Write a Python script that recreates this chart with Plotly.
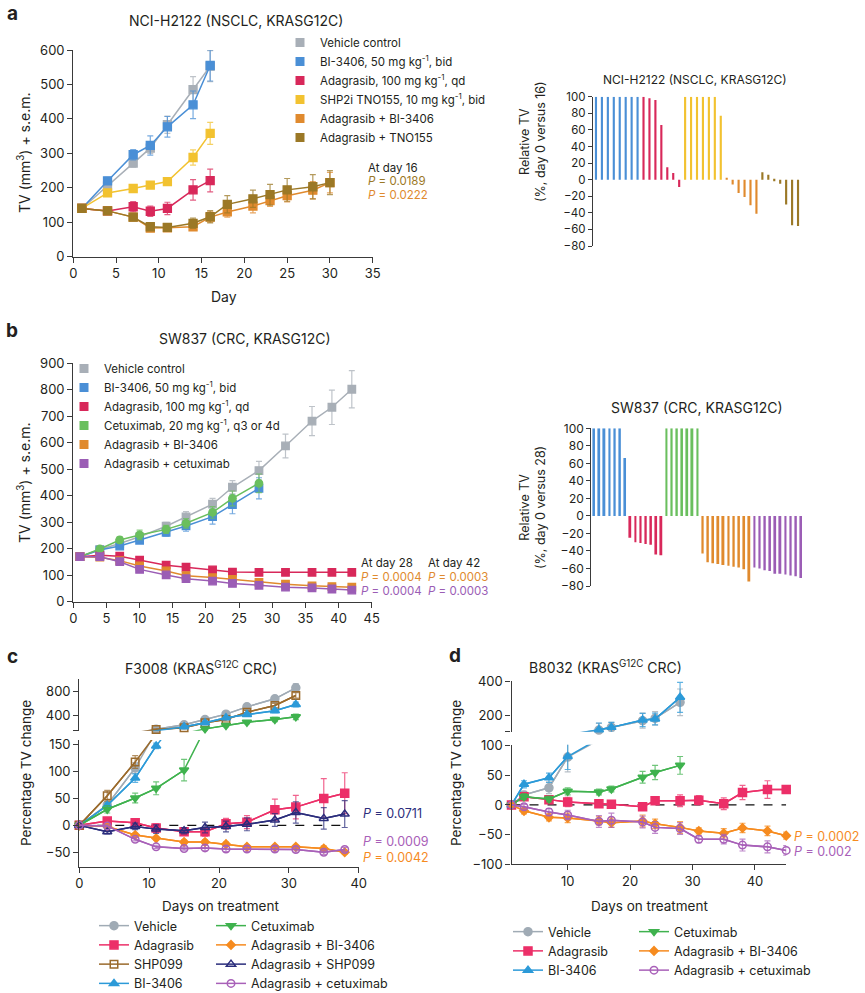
import plotly.graph_objects as go

W, H = 865, 993
FONT = "Inter"
TXT = "#231F20"
AX = "#3a3a3a"


def px(x):
    return x / W


def py(y):
    return 1 - y / H


# ---------------- Panel a data ----------------
a_days_short = [1, 4, 7, 9, 11, 14, 16]
a_days_long = [1, 4, 7, 9, 11, 14, 16, 18, 21, 23, 25, 28, 30]
a_vehicle = [140, 205, 272, 315, 383, 485, 553]
a_vehicle_err = [4, 10, 12, 15, 25, 38, 45]
a_bi = [140, 220, 296, 323, 377, 441, 555]
a_bi_err = [4, 10, 15, 28, 30, 40, 45]
a_ada = [140, 133, 145, 132, 140, 194, 221]
a_ada_err = [4, 8, 15, 15, 18, 30, 33]
a_shp = [140, 185, 198, 208, 218, 288, 358]
a_shp_err = [4, 8, 8, 8, 10, 22, 32]
a_adabi = [140, 133, 115, 83, 84, 87, 115, 130, 147, 163, 177, 193, 215]
a_adabi_err = [4, 8, 8, 8, 8, 10, 15, 15, 20, 17, 18, 25, 30]
a_adatno = [140, 133, 115, 87, 85, 97, 116, 152, 168, 180, 194, 203, 215]
a_adatno_err = [4, 8, 8, 10, 8, 15, 18, 25, 25, 30, 33, 35, 35]

a_names = ["Vehicle control", "BI-3406, 50 mg kg<sup>-1</sup>, bid",
           "Adagrasib, 100 mg kg<sup>-1</sup>, qd",
           "SHP2i TNO155, 10 mg kg<sup>-1</sup>, bid",
           "Adagrasib + BI-3406", "Adagrasib + TNO155"]

# waterfall a (relative TV, %, day 0 vs 16)
wa_bi = [100, 100, 100, 100, 100, 100, 100, 100]
wa_ada = [100, 98, 96, 66, 15, 8, -9]
wa_shp = [100, 100, 100, 100, 100, 100, 77]
wa_adabi = [2, -6, -16, -21, -31, -41]
wa_adatno = [9, 6, -2, -5, -30, -55, -56]

# ---------------- Panel b data ----------------
b_days_short = [1, 4, 7, 10, 14, 17, 21, 24, 28]
b_days_long = [1, 4, 7, 10, 14, 17, 21, 24, 28, 32, 36, 39, 42]
b_vehicle = [170, 197, 220, 245, 285, 320, 368, 432, 495, 588, 682, 734, 802]
b_vehicle_err = [5, 8, 10, 12, 15, 20, 22, 25, 35, 45, 55, 65, 70]
b_bi = [170, 195, 210, 232, 262, 286, 321, 367, 428]
b_bi_err = [5, 8, 10, 12, 15, 20, 28, 35, 40]
b_cet = [170, 199, 233, 252, 273, 296, 337, 390, 447]
b_cet_err = [5, 8, 12, 18, 15, 18, 22, 28, 35]
b_ada = [170, 175, 172, 157, 138, 130, 120, 112, 111, 111, 111, 111, 111]
b_ada_err = [5, 5, 5, 6, 6, 6, 6, 6, 6, 6, 6, 6, 6]
b_adabi = [170, 168, 155, 135, 116, 98, 91, 84, 73, 66, 60, 57, 55]
b_adabi_err = [5, 5, 5, 6, 5, 5, 5, 5, 5, 4, 4, 4, 4]
b_adacet = [170, 170, 151, 122, 101, 87, 78, 69, 62, 55, 52, 48, 44]
b_adacet_err = [5, 5, 5, 6, 5, 5, 5, 5, 5, 4, 4, 4, 4]

b_names = ["Vehicle control", "BI-3406, 50 mg kg<sup>-1</sup>, bid",
           "Adagrasib, 100 mg kg<sup>-1</sup>, qd",
           "Cetuximab, 20 mg kg<sup>-1</sup>, q3 or 4d",
           "Adagrasib + BI-3406", "Adagrasib + cetuximab"]

# waterfall b (relative TV, %, day 0 vs 28)
wb_bi = [100, 100, 100, 100, 100, 100, 66]
wb_ada = [-25, -30, -31, -32, -33, -44, -45]
wb_cet = [100, 100, 100, 100, 100, 100, 100]
wb_adabi = [-43, -53, -54, -55, -56, -57, -58, -59, -61, -75]
wb_adacet = [-59, -60, -62, -63, -66, -66, -67, -68, -69, -71]

# ---------------- Panel c data ----------------
c_days_short = [0, 4, 8, 11, 15, 18, 21, 24, 28, 31]
c_days_long = [0, 4, 8, 11, 15, 18, 21, 24, 28, 31, 35, 38]
c_vehicle = [0, 38, 107, 175, 247, 334, 422, 542, 674, 855]
c_vehicle_err = [0, 6, 10, 10, 15, 20, 25, 30, 35, 70]
c_shp099 = [0, 55, 118, 170, 197, 280, 334, 455, 564, 729]
c_shp099_err = [0, 10, 12, 10, 15, 20, 25, 30, 35, 45]
c_bi = [0, 37, 88, 148, 214, 280, 362, 416, 477, 581]
c_bi_err = [0, 5, 8, 5, 10, 15, 20, 25, 30, 40]
c_cet = [0, 30, 51, 69, 103, 180, 236, 290, 334, 378]
c_cet_err = [0, 7, 9, 12, 20, 15, 20, 25, 35, 45]
c_ada = [0, 8, 5, -5, -12, -12, 3, 6, 29, 34, 50, 60]
c_ada_err = [0, 5, 6, 8, 6, 8, 10, 12, 20, 22, 37, 38]
c_adashp = [0, -12, -2, -7, -10, -4, -2, 2, 10, 24, 13, 21]
c_adashp_err = [0, 4, 6, 8, 6, 10, 10, 12, 12, 20, 20, 25]
c_adabi = [0, -2, -18, -24, -31, -31, -35, -40, -40, -40, -43, -50]
c_adabi_err = [0, 3, 3, 3, 4, 4, 4, 3, 3, 3, 5, 3]
c_adacet = [0, -1, -26, -40, -43, -42, -44, -44, -44, -45, -50, -45]
c_adacet_err = [0, 2, 3, 3, 3, 5, 5, 5, 5, 5, 4, 4]

# ---------------- Panel d data ----------------
d_days_short = [1, 3, 7, 10, 15, 17, 22, 24, 28]
d_days_long = [1, 3, 7, 10, 15, 17, 22, 24, 28, 31, 35, 38, 42, 45]
d_vehicle = [0, 17, 29, 81, 110, 126, 166, 180, 276]
d_vehicle_err = [0, 6, 10, 25, 40, 30, 45, 40, 80]
d_bi = [0, 35, 46, 82, 112, 126, 170, 176, 306]
d_bi_err = [0, 6, 8, 22, 40, 30, 40, 35, 90]
d_cet = [0, 14, 10, 23, 22, 27, 47, 55, 67]
d_cet_err = [0, 5, 5, 6, 5, 5, 10, 12, 15]
d_ada = [0, 14, 9, 5, 2, 1, -3, 7, 7, 8, 2, 21, 26, 26]
d_ada_err = [0, 5, 6, 8, 6, 6, 6, 6, 10, 8, 10, 12, 15, 6]
d_adabi = [0, -10, -21, -22, -27, -30, -27, -32, -38, -44, -48, -39, -44, -52]
d_adabi_err = [0, 5, 6, 8, 7, 8, 10, 8, 10, 5, 8, 8, 8, 6]
d_adacet = [0, -3, -12, -17, -28, -26, -29, -38, -40, -58, -58, -68, -71, -77]
d_adacet_err = [0, 4, 6, 8, 10, 12, 10, 10, 10, 6, 8, 10, 10, 8]

# ---------------- colours ----------------
C_VEH = "#A8AFB7"
C_BI = "#4A8FD6"
C_ADA = "#D8285A"
C_SHP = "#F2C230"
C_ADABI = "#E08A2E"
C_ADATNO = "#9B7826"
C_CET = "#6ABF5E"
C_ADACET = "#9B5DB5"

D_VEH = "#A0ABB5"
D_ADA = "#EC2F68"
D_SHP = "#9A6A2C"
D_BI = "#2C9AD8"
D_CET = "#3FB24E"
D_ADABI = "#F68B1F"
D_ADASHP = "#2B2D7C"
D_ADACET = "#A860B8"


def rgba(hexcol, a):
    h = hexcol.lstrip("#")
    r, g, b = int(h[0:2], 16), int(h[2:4], 16), int(h[4:6], 16)
    return f"rgba({r},{g},{b},{a})"


traces = []


def series(x, y, err, color, xa, ya, symbol="square", size=8, lw=1.5):
    return go.Scatter(
        x=x, y=y, mode="lines+markers", xaxis=xa, yaxis=ya, showlegend=False,
        line=dict(color=color, width=lw),
        marker=dict(symbol=symbol, size=size, color=color,
                    line=dict(width=1.3, color=color)),
        error_y=dict(type="data", array=err, color=rgba(color, 0.75),
                     thickness=1.2, width=3),
        cliponaxis=False, hoverinfo="skip")


def legend_square(name, color, legend, xa, ya):
    return go.Scatter(x=[None], y=[None], mode="markers", name=name,
                      marker=dict(symbol="square", size=9, color=color),
                      legend=legend, xaxis=xa, yaxis=ya, showlegend=True)


# ----- panel a line chart -----
a_series = [
    (a_days_short, a_vehicle, a_vehicle_err, C_VEH),
    (a_days_short, a_bi, a_bi_err, C_BI),
    (a_days_short, a_ada, a_ada_err, C_ADA),
    (a_days_short, a_shp, a_shp_err, C_SHP),
    (a_days_long, a_adabi, a_adabi_err, C_ADABI),
    (a_days_long, a_adatno, a_adatno_err, C_ADATNO),
]
for (x, y, e, c) in a_series:
    traces.append(series(x, y, e, c, "x", "y"))
for name, (_, _, _, c) in zip(a_names, a_series):
    traces.append(legend_square(name, c, "legend", "x", "y"))

# ----- panel a waterfall -----
start = 0
for vals, c in [(wa_bi, C_BI), (wa_ada, C_ADA), (wa_shp, C_SHP),
                (wa_adabi, C_ADABI), (wa_adatno, C_ADATNO)]:
    xs = list(range(start, start + len(vals)))
    start += len(vals)
    traces.append(go.Bar(x=xs, y=vals, xaxis="x2", yaxis="y2", width=0.36,
                         marker=dict(color=c, line=dict(width=0)),
                         showlegend=False, hoverinfo="skip"))

# ----- panel b line chart -----
b_series = [
    (b_days_long, b_vehicle, b_vehicle_err, C_VEH, "square"),
    (b_days_short, b_bi, b_bi_err, C_BI, "square"),
    (b_days_long, b_ada, b_ada_err, C_ADA, "square"),
    (b_days_short, b_cet, b_cet_err, C_CET, "circle"),
    (b_days_long, b_adabi, b_adabi_err, C_ADABI, "square"),
    (b_days_long, b_adacet, b_adacet_err, C_ADACET, "square"),
]
for (x, y, e, c, s) in b_series:
    traces.append(series(x, y, e, c, "x3", "y3", symbol=s, size=7.5))
for name, (_, _, _, c, _) in zip(b_names, b_series):
    traces.append(legend_square(name, c, "legend2", "x3", "y3"))

# ----- panel b waterfall -----
start = 0
for vals, c in [(wb_bi, C_BI), (wb_ada, C_ADA), (wb_cet, C_CET),
                (wb_adabi, C_ADABI), (wb_adacet, C_ADACET)]:
    xs = list(range(start, start + len(vals)))
    start += len(vals)
    traces.append(go.Bar(x=xs, y=vals, xaxis="x4", yaxis="y4", width=0.38,
                         marker=dict(color=c, line=dict(width=0)),
                         showlegend=False, hoverinfo="skip"))


# ----- broken-axis panels c and d -----
def mask(vals, errs, lo, hi):
    v = [y if lo <= y <= hi else None for y in vals]
    e = [er if lo <= y <= hi else 0 for y, er in zip(vals, errs)]
    return v, e


def broken_series(name, x, y, err, color, symbol, size, axes, legend):
    out = []
    for i, (xa, ya, lo, hi) in enumerate(axes):
        # connecting line (clipped to subplot)
        out.append(go.Scatter(x=x, y=y, mode="lines", xaxis=xa, yaxis=ya,
                              line=dict(color=color, width=1.5),
                              showlegend=False, hoverinfo="skip"))
        mv, me = mask(y, err, lo, hi)
        out.append(go.Scatter(
            x=x, y=mv, mode="lines+markers", xaxis=xa, yaxis=ya, name=name,
            line=dict(color=color, width=1.5),
            marker=dict(symbol=symbol, size=size, color=color,
                        line=dict(width=1.5, color=color)),
            error_y=dict(type="data", array=me, color=rgba(color, 0.75),
                         thickness=1.2, width=3),
            cliponaxis=False, legend=legend, showlegend=(i == 0),
            hoverinfo="skip"))
    return out


C_LO, C_HI = (-77, 159), (150, 995)
c_axes = [("x5", "y5", C_LO[0], C_LO[1]), ("x6", "y6", C_HI[0], C_HI[1])]
c_series = [
    ("Vehicle", c_days_short, c_vehicle, c_vehicle_err, D_VEH, "circle", 8, "legend3"),
    ("Adagrasib", c_days_long, c_ada, c_ada_err, D_ADA, "square", 8, "legend3"),
    ("SHP099", c_days_short, c_shp099, c_shp099_err, D_SHP, "square-open", 7.5, "legend3"),
    ("BI-3406", c_days_short, c_bi, c_bi_err, D_BI, "triangle-up", 8, "legend3"),
    ("Cetuximab", c_days_short, c_cet, c_cet_err, D_CET, "triangle-down", 8, "legend4"),
    ("Adagrasib + BI-3406", c_days_long, c_adabi, c_adabi_err, D_ADABI, "diamond", 6.5, "legend4"),
    ("Adagrasib + SHP099", c_days_long, c_adashp, c_adashp_err, D_ADASHP, "triangle-up-open", 8, "legend4"),
    ("Adagrasib + cetuximab", c_days_long, c_adacet, c_adacet_err, D_ADACET, "circle-open", 7.5, "legend4"),
]
for (n, x, y, e, c, s, sz, lg) in c_series:
    traces += broken_series(n, x, y, e, c, s, sz, c_axes, lg)

D_LO, D_HI = (-100, 102), (100, 405)
d_axes = [("x7", "y7", D_LO[0], D_LO[1]), ("x8", "y8", D_HI[0], D_HI[1])]
d_series = [
    ("Vehicle", d_days_short, d_vehicle, d_vehicle_err, D_VEH, "circle", 8, "legend5"),
    ("Adagrasib", d_days_long, d_ada, d_ada_err, D_ADA, "square", 8, "legend5"),
    ("BI-3406", d_days_short, d_bi, d_bi_err, D_BI, "triangle-up", 8, "legend5"),
    ("Cetuximab", d_days_short, d_cet, d_cet_err, D_CET, "triangle-down", 8, "legend6"),
    ("Adagrasib + BI-3406", d_days_long, d_adabi, d_adabi_err, D_ADABI, "diamond", 6.5, "legend6"),
    ("Adagrasib + cetuximab", d_days_long, d_adacet, d_adacet_err, D_ADACET, "circle-open", 7.5, "legend6"),
]
for (n, x, y, e, c, s, sz, lg) in d_series:
    traces += broken_series(n, x, y, e, c, s, sz, d_axes, lg)

fig = go.Figure(traces)

# dashed zero reference lines
shapes = [
    dict(type="line", xref="x5", yref="y5", x0=min(c_days_long), x1=max(c_days_long),
         y0=0, y1=0, line=dict(color="#111", width=1.3, dash="dash"), layer="below"),
    dict(type="line", xref="x7", yref="y7", x0=min(d_days_long), x1=max(d_days_long),
         y0=0, y1=0, line=dict(color="#111", width=1.3, dash="dash"), layer="below"),
]


def axis(**kw):
    d = dict(showline=True, linecolor=AX, linewidth=1.3, ticks="outside",
             ticklen=5, tickwidth=1.3, tickcolor=AX, showgrid=False,
             zeroline=False, fixedrange=True, automargin=False,
             tickfont=dict(size=13, color=TXT, family=FONT))
    d.update(kw)
    return d


hidden_x = dict(visible=False, showgrid=False, zeroline=False, fixedrange=True)

layout = dict(
    width=W, height=H, margin=dict(l=0, r=0, t=0, b=0, autoexpand=False),
    paper_bgcolor="white", plot_bgcolor="rgba(0,0,0,0)",
    font=dict(family=FONT, color=TXT, size=12),
    barmode="overlay", showlegend=True, shapes=shapes,
    # panel a line
    xaxis=axis(domain=[px(73.3), px(372.7)], range=[0, 35], dtick=5, tick0=0, anchor="y"),
    yaxis=axis(domain=[py(256.7), py(50)], range=[0, 600], dtick=100, anchor="x"),
    # panel a waterfall
    xaxis2=dict(hidden_x, domain=[px(593), px(801)], range=[-0.5, 34.5], anchor="y2"),
    yaxis2=axis(domain=[py(246), py(96.7)], range=[-80, 100], dtick=20, anchor="x2",
                tickfont=dict(size=11.5, color=TXT, family=FONT), ticklen=4),
    # panel b line
    xaxis3=axis(domain=[px(73.3), px(371.7)], range=[0, 45], dtick=5, tick0=0, anchor="y3"),
    yaxis3=axis(domain=[py(601.7), py(363.3)], range=[0, 900], dtick=100, anchor="x3"),
    # panel b waterfall
    xaxis4=dict(hidden_x, domain=[px(591.4), px(803.6)], range=[-0.5, 40.5], anchor="y4"),
    yaxis4=axis(domain=[py(586), py(428.3)], range=[-80, 100], dtick=20, anchor="x4",
                tickfont=dict(size=12, color=TXT, family=FONT), ticklen=4),
    # panel c
    xaxis5=axis(domain=[px(79.3), px(358.7)], range=[0, 40], dtick=10, tick0=0, anchor="y5"),
    yaxis5=axis(domain=[py(866.7), py(740)], range=list(C_LO),
                tickvals=[-50, 0, 50, 100, 150], anchor="x5"),
    xaxis6=dict(hidden_x, domain=[px(79.3), px(358.7)], range=[0, 40], anchor="y6"),
    yaxis6=axis(domain=[py(730.7), py(679.3)], range=list(C_HI),
                tickvals=[150, 400, 800], ticktext=["", "400", "800"], anchor="x6"),
    # panel d
    xaxis7=axis(domain=[px(511.5), px(786.2)], range=[1, 45],
                tickvals=[10, 20, 30, 40], anchor="y7"),
    yaxis7=axis(domain=[py(864), py(744.7)], range=list(D_LO),
                tickvals=[-100, -50, 0, 50, 100], anchor="x7"),
    xaxis8=dict(hidden_x, domain=[px(511.5), px(786.2)], range=[1, 45], anchor="y8"),
    yaxis8=axis(domain=[py(731.7), py(680.8)], range=list(D_HI),
                tickvals=[100, 200, 400], ticktext=["", "200", "400"], anchor="x8"),
)


def leg(x, y, size=12):
    return dict(x=px(x), y=py(y), xanchor="left", yanchor="top",
                bgcolor="rgba(0,0,0,0)", borderwidth=0, tracegroupgap=0,
                itemwidth=30, itemclick=False, itemdoubleclick=False,
                font=dict(size=size, family=FONT, color=TXT))


layout["legend"] = leg(280, 28, 11.5)
layout["legend2"] = leg(64, 354, 11.5)
layout["legend3"] = leg(94, 911, 12.5)
layout["legend4"] = leg(211, 911, 12.5)
layout["legend5"] = leg(508, 917, 12.5)
layout["legend6"] = leg(634, 917, 12.5)


def ann(text, x, y, size=13, color=TXT, xanchor="center", yanchor="middle", angle=0):
    return dict(text=text, x=px(x), y=py(y), xref="paper", yref="paper",
                showarrow=False, xanchor=xanchor, yanchor=yanchor, textangle=angle,
                font=dict(size=size, color=color, family=FONT), borderpad=0)


anns = [
    # panel letters
    ann("<b>a</b>", 12, 14, size=19),
    ann("<b>b</b>", 12, 331, size=19),
    ann("<b>c</b>", 12, 656, size=19),
    ann("<b>d</b>", 455, 655, size=19),
    # titles
    ann("NCI-H2122 (NSCLC, KRASG12C)", 236, 20, size=14),
    ann("NCI-H2122 (NSCLC, KRASG12C)", 695, 80, size=12),
    ann("SW837 (CRC, KRASG12C)", 245, 339, size=14),
    ann("SW837 (CRC, KRASG12C)", 697, 407, size=14),
    ann("F3008 (KRAS<sup>G12C</sup> CRC)", 201, 668, size=14),
    ann("B8032 (KRAS<sup>G12C</sup> CRC)", 605, 667, size=14),
    # axis titles
    ann("TV (mm<sup>3</sup>) + s.e.m.", 24, 153, size=14, angle=-90),
    ann("Day", 224, 296, size=14),
    ann("Relative TV<br>(%, day 0 versus 16)", 532, 142, size=12.5, angle=-90),
    ann("TV (mm<sup>3</sup>) + s.e.m.", 24, 483, size=14, angle=-90),
    ann("Relative TV<br>(%, day 0 versus 28)", 532, 508, size=12.5, angle=-90),
    ann("Percentage TV change", 26, 773, size=13.5, angle=-90),
    ann("Percentage TV change", 456, 773, size=13.5, angle=-90),
    ann("Days on treatment", 220, 906, size=13.5),
    ann("Days on treatment", 649, 906, size=13.5),
    # statistics
    ann("At day 16", 367, 168, size=11.5, xanchor="left"),
    ann("<i>P</i> = 0.0189", 367, 181.5, size=11.5, color=C_ADATNO, xanchor="left"),
    ann("<i>P</i> = 0.0222", 367, 195, size=11.5, color=C_ADABI, xanchor="left"),
    ann("At day 28", 360, 563, size=11.5, xanchor="left"),
    ann("<i>P</i> = 0.0004", 360, 577, size=11.5, color=C_ADABI, xanchor="left"),
    ann("<i>P</i> = 0.0004", 360, 590.5, size=11.5, color=C_ADACET, xanchor="left"),
    ann("At day 42", 427, 563, size=11.5, xanchor="left"),
    ann("<i>P</i> = 0.0003", 427, 577, size=11.5, color=C_ADABI, xanchor="left"),
    ann("<i>P</i> = 0.0003", 427, 590.5, size=11.5, color=C_ADACET, xanchor="left"),
    ann("<i>P</i> = 0.0711", 362, 813, size=12.5, color=D_ADASHP, xanchor="left"),
    ann("<i>P</i> = 0.0009", 362, 841, size=12.5, color=D_ADACET, xanchor="left"),
    ann("<i>P</i> = 0.0042", 362, 857, size=12.5, color=D_ADABI, xanchor="left"),
    ann("<i>P</i> = 0.0002", 793, 836, size=12.5, color=D_ADABI, xanchor="left"),
    ann("<i>P</i> = 0.002", 793, 851, size=12.5, color=D_ADACET, xanchor="left"),
]
layout["annotations"] = anns

fig.update_layout(**layout)
fig.write_html("out.html",
               config={"displayModeBar": False, "responsive": False},
               post_script="document.body.style.margin='0';document.body.style.overflow='hidden';")
